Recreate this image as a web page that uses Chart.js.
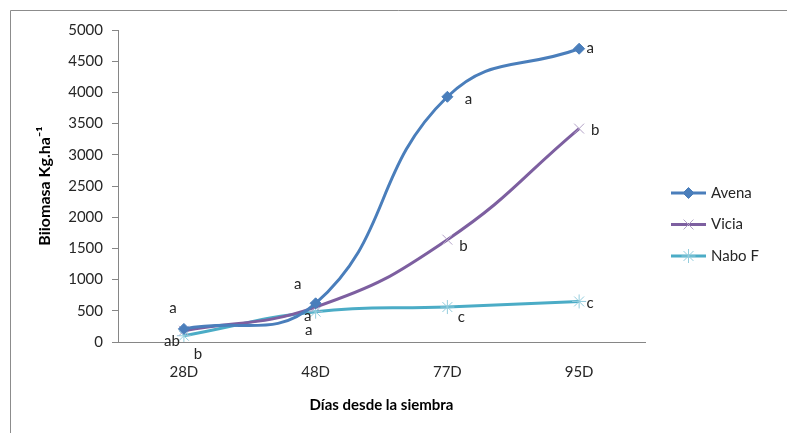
<!DOCTYPE html>
<html>
<head>
<meta charset="utf-8">
<script src="https://cdn.jsdelivr.net/npm/chart.js@4.4.0/dist/chart.umd.min.js"></script>
<style>
  html, body { margin: 0; padding: 0; background: #fff; }
  #wrap { width: 787px; height: 433px; position: relative; }
</style>
</head>
<body>
<div id="wrap"><canvas id="chart"></canvas></div>
<script>
// data
const days = ["28D", "48D", "77D", "95D"];
const avena = [210, 620, 3930, 4700];
const vicia = [180, 560, 1640, 3420];
const naboF = [100, 485, 560, 650];
const avenaLetters = ["a", "a", "a", "a"];
const viciaLetters = ["b", "a", "b", "b"];
const naboLetters = ["ab", "a", "c", "c"];
const yMin = 0;
const yMax = 5000;
const yStep = 500;

const FONT = "Lato, 'Open Sans', sans-serif";
const AXIS_GREY = "#868686";

// where each letter sits relative to its point (pixels)
const avenaLetterOffsets = [[-11, -21], [-18, -19], [21, 2], [11, -1]];
const viciaLetterOffsets = [[14, 23], [-8, 9], [16, 6], [16, 2]];
const naboLetterOffsets = [[-12, 5], [-7, 18], [14, 10], [11, 2]];

const frame = {
  id: "frame",
  beforeDraw(chart) {
    const { ctx, width, height } = chart;
    ctx.save();
    ctx.fillStyle = "#fff";
    ctx.fillRect(0, 0, width, height);
    ctx.strokeStyle = "#8c8c8c";
    ctx.lineWidth = 1;
    ctx.beginPath();
    ctx.moveTo(10.5, height);
    ctx.lineTo(10.5, 10.5);
    ctx.lineTo(width, 10.5);
    ctx.stroke();
    ctx.restore();
  },
};

const letterLabels = {
  id: "letterLabels",
  afterDatasetsDraw(chart) {
    const { ctx } = chart;
    ctx.save();
    ctx.font = `15px ${FONT}`;
    ctx.fillStyle = "#262626";
    ctx.textAlign = "center";
    ctx.textBaseline = "middle";
    chart.data.datasets.forEach((ds, i) => {
      const meta = chart.getDatasetMeta(i);
      meta.data.forEach((pt, j) => {
        const [dx, dy] = ds.letterOffsets[j];
        ctx.fillText(ds.letters[j], pt.x + dx, pt.y + dy);
      });
    });
    ctx.restore();
  },
};

const sideLegend = {
  id: "sideLegend",
  afterDraw(chart) {
    const { ctx } = chart;
    const x0 = 671;
    const x1 = 706;
    const top = 193;
    const gap = 31.5;
    ctx.save();
    chart.data.datasets.forEach((ds, i) => {
      const y = top + i * gap;
      ctx.strokeStyle = ds.borderColor;
      ctx.lineWidth = 3;
      ctx.beginPath();
      ctx.moveTo(x0, y);
      ctx.lineTo(x1, y);
      ctx.stroke();
      ctx.fillStyle = ds.pointBackgroundColor;
      ctx.strokeStyle = ds.pointBorderColor;
      ctx.lineWidth = ds.pointBorderWidth;
      Chart.helpers.drawPoint(ctx, {
        pointStyle: ds.pointStyle,
        radius: ds.pointRadius,
        rotation: 0,
        borderWidth: ds.pointBorderWidth,
      }, (x0 + x1) / 2, y);
      ctx.fillStyle = "#262626";
      ctx.font = `15px ${FONT}`;
      ctx.textAlign = "left";
      ctx.textBaseline = "middle";
      ctx.fillText(ds.label, x1 + 5, y);
    });
    ctx.restore();
  },
};

new Chart(document.getElementById("chart"), {
  type: "line",
  data: {
    labels: days,
    datasets: [
      {
        label: "Avena",
        data: avena,
        letters: avenaLetters,
        letterOffsets: avenaLetterOffsets,
        borderColor: "#4a7ebb",
        borderWidth: 3,
        tension: 0.45,
        fill: false,
        pointStyle: "rectRot",
        pointRadius: 5.5,
        pointBackgroundColor: "#4a7ebb",
        pointBorderColor: "#4a7ebb",
        pointBorderWidth: 1,
      },
      {
        label: "Vicia",
        data: vicia,
        letters: viciaLetters,
        letterOffsets: viciaLetterOffsets,
        borderColor: "#7d5fa0",
        borderWidth: 3,
        tension: 0.45,
        fill: false,
        pointStyle: "crossRot",
        pointRadius: 7,
        pointBackgroundColor: "#b3a2c7",
        pointBorderColor: "#b3a2c7",
        pointBorderWidth: 1,
      },
      {
        label: "Nabo F",
        data: naboF,
        letters: naboLetters,
        letterOffsets: naboLetterOffsets,
        borderColor: "#4bacc6",
        borderWidth: 3,
        tension: 0.45,
        fill: false,
        pointStyle: "star",
        pointRadius: 7,
        pointBackgroundColor: "#93cddd",
        pointBorderColor: "#93cddd",
        pointBorderWidth: 1,
      },
    ],
  },
  options: {
    responsive: true,
    maintainAspectRatio: false,
    animation: false,
    layout: {
      padding: { top: 30, left: 30, right: 142, bottom: 0 },
    },
    plugins: {
      legend: { display: false },
      tooltip: { enabled: false },
    },
    scales: {
      x: {
        offset: true,
        afterFit(scale) {
          scale.height = 91;
        },
        grid: { display: true, drawOnChartArea: false, drawTicks: false },
        border: { color: AXIS_GREY, width: 1 },
        ticks: {
          color: "#262626",
          padding: 21,
          font: { family: FONT, size: 15 },
        },
        title: {
          display: true,
          text: "Días desde la siembra",
          color: "#000",
          padding: { top: 0, bottom: 19 },
          font: { family: FONT, size: 15, weight: "bold" },
        },
      },
      y: {
        min: yMin,
        max: yMax,
        afterFit(scale) {
          scale.width = 88;
        },
        grid: { display: true, drawOnChartArea: false, drawTicks: true, tickLength: 6, color: AXIS_GREY },
        border: { color: AXIS_GREY, width: 1 },
        ticks: {
          stepSize: yStep,
          color: "#262626",
          padding: 9,
          font: { family: FONT, size: 15 },
          callback: (value) => String(value),
        },
        title: {
          display: true,
          text: "Biiomasa Kg.ha⁻¹",
          color: "#000",
          padding: { top: 5, bottom: 0 },
          font: { family: FONT, size: 16, weight: "bold" },
        },
      },
    },
  },
  plugins: [frame, letterLabels, sideLegend],
});
</script>
</body>
</html>
